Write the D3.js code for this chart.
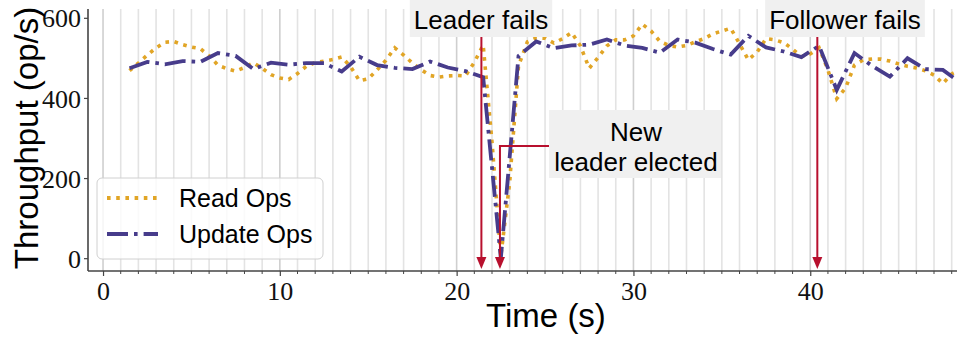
<!DOCTYPE html>
<html><head><meta charset="utf-8">
<script src="https://cdn.jsdelivr.net/npm/d3@7"></script>
<style>body{margin:0;background:#fff}svg{display:block}</style>
</head><body>
<svg id="c" width="957" height="337"></svg>
<script>
// ---- data ----
const readTimes = d3.range(1.5, 48.51, 0.5);
const readOps = [468,487,507,525,539,541,533,527,523,505,482,473,467,476,488,474,458,450,446,461,
  479,488,492,496,502,478,443,448,470,494,525,507,487,470,456,452,455,456,455,489,
  532,290,5,190,480,540,550,549,537,548,563,530,474,501,530,545,545,555,584,567,
  541,531,527,531,540,548,560,567,574,535,495,515,548,545,538,522,503,510,525,470,
  398,425,482,495,497,497,492,485,479,475,468,457,436,460,470];
const updateTimes = d3.range(1.5, 48.51, 1);
const updateOps = [474,490,484,492,490,512,505,472,488,483,487,487,466,503,482,475,472,491,476,467,
  452,0,505,541,524,531,533,546,531,525,513,546,538,522,508,555,526,516,502,530,
  420,512,480,453,499,472,470,438];
const xTicks = [0,10,20,30,40];
const yTicks = [0,200,400,600];
const seriesNames = ["Read Ops","Update Ops"];
const annotations = [
  {label:["Leader fails"], t:21.4},
  {label:["New","leader elected"], t:22.45},
  {label:["Follower fails"], t:40.4}
];

const svg = d3.select("#c");
const L=88, R=957, T=9, B=271;
const x = d3.scaleLinear().domain([-0.85, 48.3]).range([L, R]);
const y = d3.scaleLinear().domain([-32, 622]).range([B, T]);
const red = "#b8102e", gold = "#e1a526", purple = "#473c8b";
const sans = "'Liberation Sans', Arial, sans-serif";

const defs = svg.append("defs");
defs.append("clipPath").attr("id","clip").append("rect").attr("x",L).attr("y",T).attr("width",R-L).attr("height",B-T);
const grid = svg.append("g");
d3.range(0, 49, 1).forEach(s=>{
  grid.append("line").attr("x1",x(s)).attr("x2",x(s)).attr("y1",T).attr("y2",B)
    .attr("stroke", s%10===0 ? "#cfcfcf" : "#e3e3e3").attr("stroke-width",1.6);
});

// axes
const xAxis = svg.append("g").attr("transform",`translate(0,${B})`)
  .call(d3.axisBottom(x).tickValues(xTicks).tickSize(5).tickPadding(4).tickFormat(d3.format("d")));
xAxis.select(".domain").attr("stroke","#444").attr("stroke-width",1.6).attr("d",`M${L},0H${R}`);
const minor = svg.append("g").attr("transform",`translate(0,${B})`);
d3.range(0,49,1).filter(s=>s%10!==0).forEach(s=>{
  minor.append("line").attr("x1",x(s)).attr("x2",x(s)).attr("y1",0).attr("y2",3).attr("stroke","#444").attr("stroke-width",1);
});
const yAxis = svg.append("g").attr("transform",`translate(${L},0)`)
  .call(d3.axisLeft(y).tickValues(yTicks).tickSize(4).tickPadding(3).tickFormat(d3.format("d")));
yAxis.select(".domain").attr("stroke","#444").attr("stroke-width",1.6).attr("d",`M0,${T}V${B}`);
svg.selectAll(".tick line").attr("stroke","#444").attr("stroke-width",1.2);
svg.selectAll(".tick text").attr("font-family","'Liberation Serif', serif").attr("font-size",26).attr("fill","#111");
xAxis.selectAll(".tick text").attr("dy","0.75em");
yAxis.selectAll(".tick text").attr("dy","0.35em");

// lines
const plot = svg.append("g").attr("clip-path","url(#clip)");
const lineGen = d3.line().x(d=>x(d[0])).y(d=>y(d[1]));
plot.append("path").datum(readTimes.map((t,i)=>[t,readOps[i]]))
  .attr("d",lineGen).attr("fill","none").attr("stroke",gold).attr("stroke-width",3.6)
  .attr("stroke-dasharray","3.6 5.6");
plot.append("path").datum(updateTimes.map((t,i)=>[t,updateOps[i]]))
  .attr("d",lineGen).attr("fill","none").attr("stroke",purple).attr("stroke-width",3.8)
  .attr("stroke-dasharray","21 6 3.6 6").attr("stroke-linejoin","miter");

// annotations
const ann = svg.append("g");
function arrowHead(g, ax, tipY){
  g.append("path").attr("d",`M${ax-5},${tipY-12}L${ax+5},${tipY-12}L${ax},${tipY}Z`).attr("fill",red);
}
const tipY = 269;
function topBox(a, cx){
  const ax = x(a.t);
  const g = ann.append("g");
  const bg = g.append("rect").attr("fill","#f0f0f0");
  const tx = g.append("text").attr("x",cx).attr("y",29).attr("text-anchor","middle")
    .attr("font-family",sans).attr("font-size",26).attr("fill","#000").text(a.label[0]);
  const bb = tx.node().getBBox();
  bg.attr("x",bb.x-4).attr("y",0).attr("width",bb.width+8).attr("height",37);
  g.append("line").attr("x1",ax).attr("x2",ax).attr("y1",37).attr("y2",tipY-10).attr("stroke",red).attr("stroke-width",2);
  arrowHead(g, ax, tipY);
}
topBox(annotations[0], 481);
topBox(annotations[2], 845);
{
  const a = annotations[1], ax = x(a.t);
  const g = ann.append("g");
  const bg = g.append("rect").attr("fill","#f0f0f0");
  const tx = g.append("text").attr("text-anchor","middle")
    .attr("font-family",sans).attr("font-size",26).attr("fill","#000");
  tx.append("tspan").attr("x",636).attr("y",141).text(a.label[0]);
  tx.append("tspan").attr("x",636).attr("y",171).text(a.label[1]);
  bg.attr("x",549).attr("y",110).attr("width",172).attr("height",68);
  g.append("path").attr("d",`M549,146H${ax}V${tipY-10}`).attr("fill","none").attr("stroke",red).attr("stroke-width",2);
  arrowHead(g, ax, tipY);
}

// legend
const lg = svg.append("g");
lg.append("rect").attr("x",97).attr("y",178).attr("width",226).attr("height",81).attr("rx",5)
  .attr("fill","#fff").attr("fill-opacity",0.8).attr("stroke","#d0d0d0").attr("stroke-width",1);
const lgItems = [{name:seriesNames[0],c:gold,da:"3.6 5.6",y:198},{name:seriesNames[1],c:purple,da:"21 6 3.6 6",y:234}];
lgItems.forEach(it=>{
  lg.append("line").attr("x1",107).attr("x2",158).attr("y1",it.y).attr("y2",it.y)
    .attr("stroke",it.c).attr("stroke-width",3.8).attr("stroke-dasharray",it.da);
  lg.append("text").attr("x",179).attr("y",it.y+9).attr("font-family",sans)
    .attr("font-size",25).attr("fill","#000").text(it.name);
});

// axis labels
svg.append("text").attr("x",546).attr("y",327).attr("text-anchor","middle")
  .attr("font-family",sans).attr("font-size",33).attr("fill","#000").text("Time (s)");
svg.append("text").attr("transform","translate(38,138) rotate(-90)").attr("text-anchor","middle")
  .attr("font-family",sans).attr("font-size",33).attr("fill","#000").text("Throughput (op/s)");
</script>
</body></html>
